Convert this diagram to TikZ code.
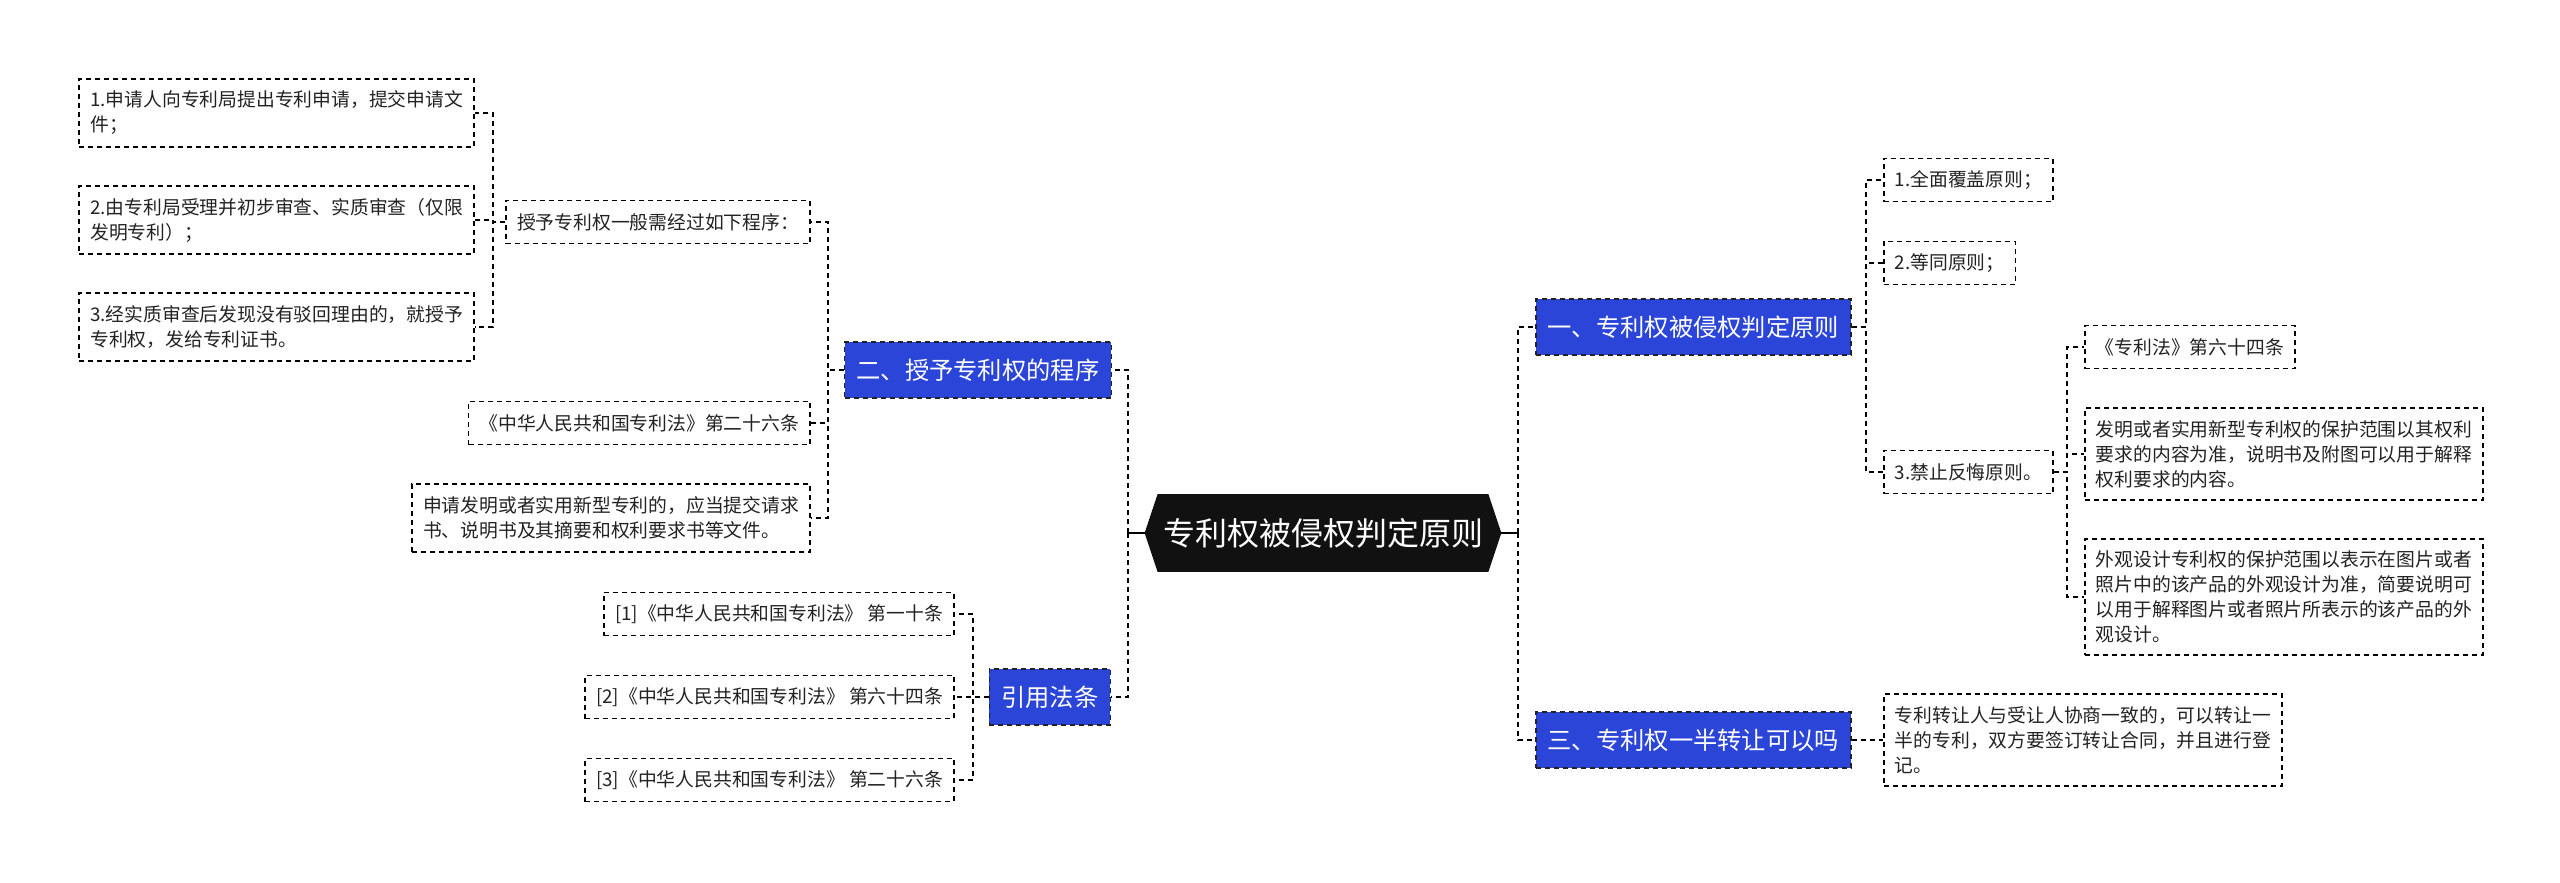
\documentclass[tikz,border=0pt]{standalone}
\usepackage{fontspec}
\newfontfamily\cjk{Noto Sans CJK SC}
\usetikzlibrary{backgrounds}
\definecolor{topicblue}{HTML}{2B45D8}
\definecolor{rootfill}{HTML}{111111}
\definecolor{inkc}{HTML}{222222}
\tikzset{
  leaf/.style={draw=black, dash pattern=on 2.5pt off 2pt, line width=0.85pt,
    inner xsep=5.5pt, inner ysep=0pt, align=left, text=inkc,
    font=\cjk\fontsize{9.4pt}{12.5pt}\selectfont},
  oneline/.style={minimum height=21.5pt},
  twoline/.style={minimum height=34pt},
  threeline/.style={minimum height=46pt},
  fourline/.style={minimum height=58pt},
  topic/.style={fill=topicblue, draw=inkc, dash pattern=on 2.5pt off 2pt, line width=0.75pt,
    text=white, font=\cjk\fontsize{12.15pt}{14pt}\selectfont,
    minimum height=28pt, inner xsep=5.9pt, inner ysep=0pt},
  rootnode/.style={text=white, font=\cjk\fontsize{16pt}{19pt}\selectfont,
    minimum width=178pt, minimum height=38.5pt, inner sep=0pt},
  conn/.style={draw=black, dash pattern=on 2.5pt off 2pt, line width=0.8pt},
  bus/.style={draw=black, dash pattern=on 2.5pt off 2pt, line width=1.2pt},
  stub/.style={draw=black, line width=0.75pt},
}
\begin{document}
\begin{tikzpicture}[x=0.5pt,y=-0.5pt]
\useasboundingbox (0,0) rectangle (2560,883);

% root
\node[rootnode] (root) at (1323,533) {专利权被侵权判定原则};
\begin{pgfonlayer}{background}
\fill[rootfill] (root.west) -- ([xshift=6.5pt]root.north west) -- ([xshift=-6.5pt]root.north east)
  -- (root.east) -- ([xshift=-6.5pt]root.south east) -- ([xshift=6.5pt]root.south west) -- cycle;
\end{pgfonlayer}

% topics
\node[topic, anchor=east] (L1) at (1112,370) {二、授予专利权的程序};
\node[topic, anchor=east] (L2) at (1111,697) {引用法条};
\node[topic, anchor=west] (R1) at (1535,327) {一、专利权被侵权判定原则};
\node[topic, anchor=west] (R2) at (1535,740) {三、专利权一半转让可以吗};

% left: children of L1
\node[leaf, oneline, anchor=east] (g1) at (811,222) {授予专利权一般需经过如下程序：};
\node[leaf, oneline, anchor=east] (g2) at (811,423) {《中华人民共和国专利法》第二十六条};
\node[leaf, twoline, anchor=east] (g3) at (811,518) {申请发明或者实用新型专利的，应当提交请求\\书、说明书及其摘要和权利要求书等文件。};

% children of g1
\node[leaf, twoline, anchor=east] (p1) at (475,113) {1.申请人向专利局提出专利申请，提交申请文\\件；};
\node[leaf, twoline, anchor=east] (p2) at (475,220) {2.由专利局受理并初步审查、实质审查（仅限\\发明专利）；};
\node[leaf, twoline, anchor=east] (p3) at (475,327) {3.经实质审查后发现没有驳回理由的，就授予\\专利权，发给专利证书。};

% children of L2
\node[leaf, oneline, anchor=east] (r1) at (955,614) {[1]《中华人民共和国专利法》 第一十条};
\node[leaf, oneline, anchor=east] (r2) at (955,697) {[2]《中华人民共和国专利法》 第六十四条};
\node[leaf, oneline, anchor=east] (r3) at (955,780) {[3]《中华人民共和国专利法》 第二十六条};

% right: children of R1
\node[leaf, oneline, anchor=west] (a1) at (1883,180) {1.全面覆盖原则；};
\node[leaf, oneline, anchor=west] (a2) at (1883,263) {2.等同原则；};
\node[leaf, oneline, anchor=west] (a3) at (1883,472) {3.禁止反悔原则。};

% children of a3
\node[leaf, oneline, anchor=west] (b1) at (2084,347) {《专利法》第六十四条};
\node[leaf, threeline, anchor=west] (b2) at (2084,454) {发明或者实用新型专利权的保护范围以其权利\\要求的内容为准，说明书及附图可以用于解释\\权利要求的内容。};
\node[leaf, fourline, anchor=west] (b3) at (2084,597) {外观设计专利权的保护范围以表示在图片或者\\照片中的该产品的外观设计为准，简要说明可\\以用于解释图片或者照片所表示的该产品的外\\观设计。};

% child of R2
\node[leaf, threeline, anchor=west] (c1) at (1883,740) {专利转让人与受让人协商一致的，可以转让一\\半的专利，双方要签订转让合同，并且进行登\\记。};

% bus junctions
\coordinate (kC1) at (1128,533);
\coordinate (kC2) at (1518,533);
\coordinate (kL1) at (828,370);
\coordinate (kG1) at (493,222);
\coordinate (kL2) at (973,697);
\coordinate (kR1) at (1866,327);
\coordinate (kA3) at (2067,472);

% root connectors
\draw[stub] (root.west) -- (kC1);
\draw[stub] (root.east) -- (kC2);
\draw[bus] (kC1) |- (L1.east);
\draw[bus] (kC1) |- (L2.east);
\draw[bus] (kC2) |- (R1.west);
\draw[bus] (kC2) |- (R2.west);

% L1 children
\draw[conn] (L1.west) -- (kL1) |- (g1.east);
\draw[conn] (L1.west) -- (kL1) |- (g2.east);
\draw[conn] (L1.west) -- (kL1) |- (g3.east);

% g1 children
\draw[conn] (g1.west) -- (kG1) |- (p1.east);
\draw[conn] (g1.west) -- (kG1) |- (p2.east);
\draw[conn] (g1.west) -- (kG1) |- (p3.east);

% L2 children
\draw[conn] (L2.west) -- (kL2) |- (r1.east);
\draw[conn] (L2.west) -- (kL2) |- (r2.east);
\draw[conn] (L2.west) -- (kL2) |- (r3.east);

% R1 children
\draw[conn] (R1.east) -- (kR1) |- (a1.west);
\draw[conn] (R1.east) -- (kR1) |- (a2.west);
\draw[conn] (R1.east) -- (kR1) |- (a3.west);

% a3 children
\draw[conn] (a3.east) -- (kA3) |- (b1.west);
\draw[conn] (a3.east) -- (kA3) |- (b2.west);
\draw[conn] (a3.east) -- (kA3) |- (b3.west);

% R2 child
\draw[conn] (R2.east) -- (c1.west);
\end{tikzpicture}
\end{document}
